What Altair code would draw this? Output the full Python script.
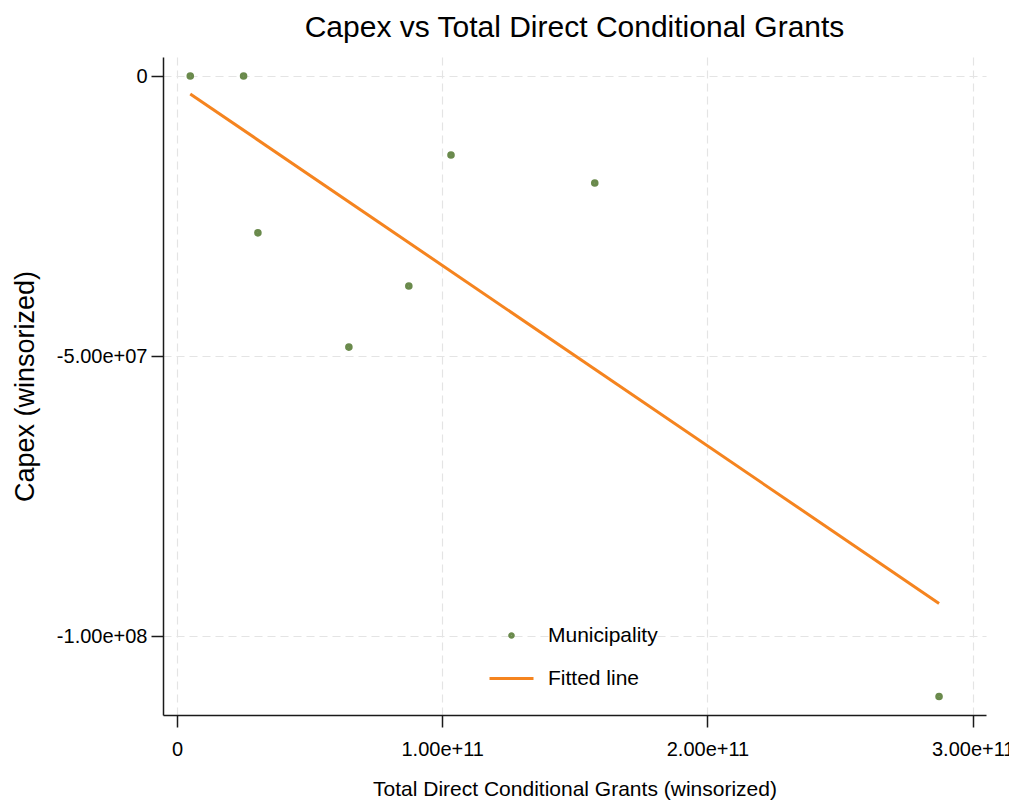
import altair as alt
import pandas as pd

# Municipality observations (winsorized)
grants = [5.0e9, 2.51e10, 3.05e10, 6.48e10, 8.74e10, 1.033e11, 1.575e11, 2.873e11]
capex = [0.0, 0.0, -2.80e7, -4.84e7, -3.75e7, -1.41e7, -1.91e7, -1.108e8]

series_names = ["Municipality", "Fitted line"]
series_colors = ["#6a8a4c", "#f5841f"]
series_shapes = ["circle", "stroke"]
series_sizes = [13, 1936]

x_ticks = [0, 1e11, 2e11, 3e11]
x_tick_labels = ["0", "1.00e+11", "2.00e+11", "3.00e+11"]
y_ticks = [0, -5e7, -1e8]
y_tick_labels = ["0", "-5.00e+07", "-1.00e+08"]

FONT = "'Liberation Sans', Arial, sans-serif"


def label_expr(values, labels):
    expr = "''"
    for v, lab in zip(reversed(values), reversed(labels)):
        expr = f"datum.value == {float(v)!r} ? '{lab}' : ({expr})"
    return expr


df = pd.DataFrame({"grants": grants, "capex": capex, "series": series_names[0]})

x_enc = alt.X(
    "grants:Q",
    title="Total Direct Conditional Grants (winsorized)",
    scale=alt.Scale(domain=[-5.28e9, 3.05e11], nice=False, zero=False),
    axis=alt.Axis(
        values=x_ticks,
        labelExpr=label_expr(x_ticks, x_tick_labels),
        labelPadding=12,
        titlePadding=19,
        titleFontSize=21,
        labelFlush=False,
        labelOverlap=False,
    ),
)
y_enc = alt.Y(
    "capex:Q",
    title="Capex (winsorized)",
    scale=alt.Scale(domain=[-1.141e8, 3.4e6], nice=False, zero=False),
    axis=alt.Axis(
        values=y_ticks,
        labelExpr=label_expr(y_ticks, y_tick_labels),
        labelPadding=4,
        titlePadding=17,
        titleFontSize=27,
        labelFlush=False,
        labelOverlap=False,
    ),
)

legend = alt.Legend(
    orient="none",
    legendX=325,
    legendY=568,
    title=None,
)

base = alt.Chart(df)

fit = (
    base.transform_regression("grants", "capex")
    .transform_calculate(series="'Fitted line'")
    .mark_line(strokeWidth=3)
    .encode(
        x=x_enc,
        y=y_enc,
        color=alt.Color(
            "series:N",
            scale=alt.Scale(domain=series_names, range=series_colors),
            legend=legend,
        ),
    )
)

dots = base.mark_point(filled=False, strokeWidth=4, opacity=1).encode(
    x=x_enc,
    y=y_enc,
    color=alt.Color(
        "series:N",
        scale=alt.Scale(domain=series_names, range=series_colors),
        legend=legend,
    ),
    shape=alt.Shape(
        "series:N",
        scale=alt.Scale(domain=series_names, range=series_shapes),
        legend=legend,
    ),
    size=alt.Size(
        "series:N",
        scale=alt.Scale(domain=series_names, range=series_sizes),
        legend=legend,
    ),
)

chart = (
    alt.layer(fit, dots)
    .properties(
        width=823,
        height=658,
        autosize=alt.AutoSizeParams(type="none"),
        padding={"left": 163, "top": 57, "right": 23, "bottom": 89},
        title=alt.TitleParams(
            "Capex vs Total Direct Conditional Grants",
            font=FONT,
            fontSize=30,
            fontWeight="normal",
            color="black",
            anchor="middle",
            offset=14,
        ),
        background="white",
    )
    .configure_view(strokeWidth=0)
    .configure_axis(
        domainColor="#1a1a1a",
        domainWidth=1.5,
        tickColor="#1a1a1a",
        tickWidth=1.5,
        tickSize=12,
        labelFont=FONT,
        labelFontSize=20,
        labelColor="black",
        titleFont=FONT,
        titleFontWeight="normal",
        titleColor="black",
        gridColor="#e4e4e4",
        gridDash=[8, 5],
        gridWidth=1.2,
    )
    .configure_legend(
        labelFont=FONT,
        labelFontSize=21,
        labelColor="black",
        labelOffset=13,
        symbolStrokeWidth=3,
        rowPadding=9,
        padding=0,
    )
)

chart.save("out.html", embed_options={"renderer": "svg", "actions": False})
